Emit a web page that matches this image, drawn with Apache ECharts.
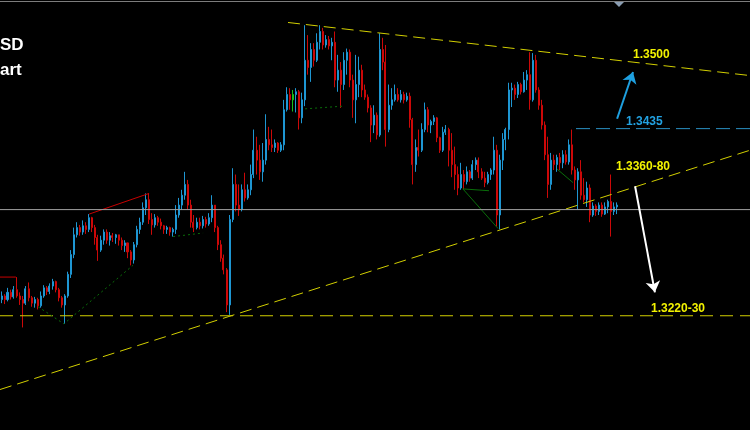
<!DOCTYPE html>
<html><head><meta charset="utf-8">
<script src="https://cdn.jsdelivr.net/npm/echarts/dist/echarts.min.js"></script>
<style>html,body{margin:0;padding:0;background:#000;}#c{width:750px;height:430px;}</style>
</head><body><div id="c"></div>
<script>
// ---- candle data (hourly bars) ----
const opens = [
1.3243,1.3247,1.3243,1.3251,1.3246,1.3254,1.3247,1.3243,1.3239,1.3255,
1.3245,1.3239,1.3243,1.3236,1.3247,1.3256,1.3252,1.3258,1.3263,1.3254,
1.3245,1.3237,1.3247,1.3271,1.3293,1.3315,1.3323,1.3318,1.3325,1.3321,
1.3334,1.3323,1.3312,1.3298,1.3309,1.3318,1.3309,1.3314,1.3312,1.3315,
1.3309,1.3303,1.3306,1.3296,1.3287,1.3304,1.3321,1.3329,1.3345,1.3354,
1.3332,1.3326,1.3334,1.3329,1.3325,1.3321,1.3323,1.3318,1.3321,1.3337,
1.3348,1.3359,1.3371,1.3348,1.3329,1.3323,1.3329,1.3325,1.3332,1.3327,
1.3334,1.3348,1.3323,1.3304,1.3289,1.3276,1.3237,1.3332,1.3371,1.3348,
1.3343,1.3365,1.3356,1.3365,1.3382,1.3409,1.3398,1.3385,1.3398,1.3421,
1.3415,1.3412,1.3417,1.3409,1.3415,1.3454,1.3471,1.3465,1.3471,1.3474,
1.3445,1.3465,1.3509,1.3501,1.3521,1.3509,1.3529,1.3541,1.3526,1.3532,
1.3525,1.3529,1.3487,1.3498,1.3482,1.3509,1.3518,1.3487,1.3465,1.3482,
1.3498,1.3476,1.3468,1.3456,1.3437,1.3448,1.3426,1.3521,1.3507,1.3432,
1.3459,1.3465,1.3471,1.3465,1.3471,1.3465,1.3469,1.3443,1.3393,1.3412,
1.3409,1.3432,1.3454,1.3437,1.3441,1.3445,1.3423,1.3409,1.3429,1.3432,
1.3409,1.3393,1.3382,1.3367,1.3382,1.3374,1.3385,1.3378,1.3393,1.3398,
1.3385,1.3378,1.3373,1.3382,1.3387,1.3409,1.3337,1.3398,1.3421,1.3432,
1.3476,1.3478,1.3471,1.3482,1.3474,1.3487,1.3493,1.3465,1.3509,1.3476,
1.3459,1.3437,1.3404,1.3371,1.3398,1.3393,1.3401,1.3395,1.3404,1.3396,
1.3415,1.3387,1.3376,1.3385,1.3359,1.3354,1.3367,1.3337,1.3347,1.3341,
1.3348,1.3338,1.3346,1.3352,1.3341,1.3346
];
const closes = [
1.3247,1.3243,1.3251,1.3246,1.3254,1.3247,1.3243,1.3239,1.3255,1.3245,
1.3239,1.3243,1.3236,1.3247,1.3256,1.3252,1.3258,1.3263,1.3254,1.3245,
1.3237,1.3247,1.3271,1.3293,1.3315,1.3323,1.3318,1.3325,1.3321,1.3334,
1.3323,1.3312,1.3298,1.3309,1.3318,1.3309,1.3314,1.3312,1.3315,1.3309,
1.3303,1.3306,1.3296,1.3287,1.3304,1.3321,1.3329,1.3345,1.3354,1.3332,
1.3326,1.3334,1.3329,1.3325,1.3321,1.3323,1.3318,1.3321,1.3337,1.3348,
1.3359,1.3371,1.3348,1.3329,1.3323,1.3329,1.3325,1.3332,1.3327,1.3334,
1.3348,1.3323,1.3304,1.3289,1.3276,1.3237,1.3332,1.3371,1.3348,1.3343,
1.3365,1.3356,1.3365,1.3382,1.3409,1.3398,1.3385,1.3398,1.3421,1.3415,
1.3412,1.3417,1.3409,1.3415,1.3454,1.3471,1.3465,1.3471,1.3474,1.3445,
1.3465,1.3509,1.3501,1.3521,1.3509,1.3529,1.3541,1.3526,1.3532,1.3525,
1.3529,1.3487,1.3498,1.3482,1.3509,1.3518,1.3487,1.3465,1.3482,1.3498,
1.3476,1.3468,1.3456,1.3437,1.3448,1.3426,1.3521,1.3507,1.3432,1.3459,
1.3465,1.3471,1.3465,1.3471,1.3465,1.3469,1.3443,1.3393,1.3412,1.3409,
1.3432,1.3454,1.3437,1.3441,1.3445,1.3423,1.3409,1.3429,1.3432,1.3409,
1.3393,1.3382,1.3367,1.3382,1.3374,1.3385,1.3378,1.3393,1.3398,1.3385,
1.3378,1.3373,1.3382,1.3387,1.3409,1.3337,1.3398,1.3421,1.3432,1.3476,
1.3478,1.3471,1.3482,1.3474,1.3487,1.3493,1.3465,1.3509,1.3476,1.3459,
1.3437,1.3404,1.3371,1.3398,1.3393,1.3401,1.3395,1.3404,1.3396,1.3415,
1.3387,1.3376,1.3385,1.3359,1.3354,1.3367,1.3337,1.3347,1.3341,1.3348,
1.3338,1.3346,1.3352,1.3341,1.3346,1.3348
];
const lows = [
1.3239,1.3238,1.3241,1.3243,1.3244,1.3245,1.3237,1.3212,1.3237,1.3241,
1.3235,1.3234,1.3232,1.3234,1.3245,1.3248,1.3249,1.3254,1.3251,1.3241,
1.3234,1.3216,1.3245,1.3267,1.3289,1.3312,1.3314,1.3315,1.3316,1.3318,
1.3318,1.3304,1.3286,1.3296,1.3304,1.3305,1.3303,1.3307,1.3305,1.3303,
1.3298,1.3296,1.3289,1.3281,1.3283,1.3301,1.3316,1.3326,1.3337,1.3327,
1.3315,1.3323,1.3325,1.3321,1.3316,1.3316,1.3314,1.3313,1.3316,1.3334,
1.3343,1.3354,1.3343,1.3323,1.3318,1.3321,1.3321,1.3322,1.3323,1.3325,
1.3329,1.3318,1.3298,1.3285,1.3271,1.3229,1.3226,1.3329,1.3341,1.3336,
1.3341,1.3352,1.3354,1.3359,1.3378,1.3382,1.3376,1.3374,1.3393,1.3409,
1.3407,1.3407,1.3406,1.3407,1.3409,1.3452,1.3454,1.3452,1.3451,1.3432,
1.3439,1.3458,1.3493,1.3485,1.3502,1.3507,1.3521,1.3521,1.3523,1.3521,
1.3509,1.3479,1.3474,1.3456,1.3476,1.3493,1.3479,1.3445,1.3439,1.3468,
1.3468,1.3465,1.3451,1.3418,1.3428,1.3421,1.3424,1.3498,1.3413,1.3429,
1.3454,1.3463,1.3463,1.3462,1.3461,1.3463,1.3434,1.3371,1.3385,1.3402,
1.3407,1.3429,1.3429,1.3428,1.3437,1.3418,1.3406,1.3407,1.3426,1.3391,
1.3379,1.3365,1.3359,1.3365,1.3365,1.3371,1.3374,1.3376,1.3387,1.3378,
1.3376,1.3368,1.3371,1.3376,1.3382,1.3324,1.3321,1.3387,1.3409,1.3421,
1.3457,1.3465,1.3467,1.3471,1.3473,1.3476,1.3454,1.3463,1.3473,1.3454,
1.3432,1.3398,1.3356,1.3365,1.3387,1.3385,1.3387,1.3389,1.3393,1.3393,
1.3382,1.3365,1.3343,1.3354,1.3351,1.3346,1.3329,1.3335,1.3336,1.3337,
1.3335,1.3337,1.3339,1.3313,1.3337,1.3338
];
const highs = [
1.3252,1.3249,1.3256,1.3254,1.3258,1.3268,1.3251,1.3247,1.3258,1.3262,
1.3247,1.3246,1.3245,1.3252,1.3259,1.3258,1.3261,1.3266,1.3264,1.3256,
1.3247,1.3249,1.3274,1.3298,1.3323,1.3329,1.3326,1.3331,1.3329,1.3338,
1.3335,1.3326,1.3315,1.3314,1.3321,1.3321,1.3318,1.3317,1.3316,1.3315,
1.3312,1.3309,1.3305,1.3298,1.3307,1.3325,1.3334,1.3351,1.3361,1.3361,
1.3339,1.3338,1.3336,1.3333,1.3326,1.3325,1.3324,1.3323,1.3348,1.3356,
1.3365,1.3385,1.3376,1.3354,1.3337,1.3334,1.3334,1.3336,1.3335,1.3339,
1.3359,1.3348,1.3325,1.3309,1.3293,1.3278,1.3337,1.3389,1.3382,1.3371,
1.3371,1.3384,1.3371,1.3393,1.3432,1.3424,1.3415,1.3417,1.3449,1.3435,
1.3432,1.3421,1.3418,1.3418,1.3465,1.3479,1.3478,1.3476,1.3478,1.3476,
1.3473,1.3548,1.3537,1.3528,1.3528,1.3539,1.3548,1.3545,1.3537,1.3536,
1.3534,1.3541,1.3515,1.3507,1.3518,1.3522,1.3521,1.3493,1.3515,1.3513,
1.3504,1.3482,1.3471,1.3459,1.3459,1.3451,1.3539,1.3534,1.3526,1.3482,
1.3478,1.3482,1.3478,1.3476,1.3474,1.3473,1.3473,1.3445,1.3421,1.3432,
1.3439,1.3462,1.3457,1.3443,1.3448,1.3446,1.3424,1.3435,1.3437,1.3434,
1.3428,1.3413,1.3391,1.3395,1.3387,1.3391,1.3387,1.3398,1.3401,1.3401,
1.3389,1.3385,1.3385,1.3389,1.3424,1.3415,1.3404,1.3428,1.3434,1.3484,
1.3484,1.3482,1.3485,1.3484,1.3496,1.3498,1.3518,1.3517,1.3515,1.3479,
1.3465,1.3441,1.3424,1.3406,1.3404,1.3404,1.3406,1.3409,1.3409,1.3421,
1.3432,1.3391,1.3389,1.3398,1.3378,1.3374,1.3371,1.3351,1.3349,1.3351,
1.3351,1.3351,1.3354,1.3382,1.3351,1.3351
];
const slotCount = 250;              // bar slots across the window (incl. empty space on the right)
const categories = Array.from({length: slotCount}, (_, i) => 'H' + i);
const greenBarIndex = 97;

// ---- drawn studies (x in bar-slot units, y in price) ----
const upperTrendX = [96, 250],  upperTrendY = [1.3551, 1.3492];
const lowerTrendX = [0, 250],   lowerTrendY = [1.3143, 1.3409];
const supportLevel = 1.3225;
const resistanceLevel = 1.3433, resistanceStartX = 192;
const lastPriceLevel = 1.3343;
const redZigX1 = [0, 5.3],       redZigY1 = [1.3268, 1.3268];
const redZigX2 = [29.7, 49.7],   redZigY2 = [1.3338, 1.3361];
const greenDotX1 = [12.7, 21.3, 44.3], greenDotY1 = [1.3235, 1.3216, 1.3281];
const greenDotX2 = [57.7, 67.7], greenDotY2 = [1.3313, 1.3317];
const greenDotX3 = [101.7, 114.3], greenDotY3 = [1.3455, 1.3458];
const greenSolidX1 = [163, 154.3, 166], greenSolidY1 = [1.3364, 1.3366, 1.3322];
const greenSolidX2 = [185.7, 191], greenSolidY2 = [1.3388, 1.3373];
const upArrowX = [205.7, 211],   upArrowY = [1.3444, 1.3496];
const downArrowX = [211.7, 218.3], downArrowY = [1.3369, 1.3251];

const UP = '#1e96d2', DOWN = '#cc0808';
const pairs = (xs, ys) => xs.map((x, i) => [x, ys[i]]);

const candleData = opens.map((o, i) => {
  const item = { value: [o, closes[i], lows[i], highs[i]] };
  if (i === greenBarIndex) item.itemStyle = { color: '#19c019', borderColor: '#19c019', color0: '#19c019', borderColor0: '#19c019' };
  return item;
});

function ovLine(xs, ys, color, type, z) {
  return { type: 'line', xAxisIndex: 1, yAxisIndex: 0, data: pairs(xs, ys), symbol: 'none',
    silent: true, animation: false, z: z || 3,
    lineStyle: { color: color, width: 1, type: type } };
}

const chart = echarts.init(document.getElementById('c'), null, { renderer: 'canvas' });
chart.setOption({
  backgroundColor: '#000000',
  animation: false,
  grid: { left: 0, right: 0, top: 0, bottom: 0 },
  xAxis: [
    { type: 'category', data: categories, boundaryGap: true, show: false },
    { type: 'value', min: 0, max: slotCount, show: false }
  ],
  yAxis: { type: 'value', min: 1.3098, max: 1.3576, show: false, splitLine: { show: false } },
  series: [
    { type: 'candlestick', data: candleData, barWidth: 1.5, z: 2,
      itemStyle: { color: UP, color0: DOWN, borderColor: UP, borderColor0: DOWN, borderColorDoji: UP, borderWidth: 1 } },
    ovLine([0, slotCount], [lastPriceLevel, lastPriceLevel], '#a0a0a0', 'solid', 4),
    ovLine(upperTrendX, upperTrendY, '#d2cf00', [12, 6]),
    ovLine(lowerTrendX, lowerTrendY, '#d2cf00', [12, 6]),
    ovLine([0, slotCount], [supportLevel, supportLevel], '#d2cf00', [13, 7]),
    ovLine([resistanceStartX, slotCount], [resistanceLevel, resistanceLevel], '#2a90c4', [14, 6]),
    ovLine(redZigX1, redZigY1, '#c80000', 'solid'),
    ovLine(redZigX2, redZigY2, '#c80000', 'solid'),
    ovLine(greenDotX1, greenDotY1, '#0a6e0a', [2, 3]),
    ovLine(greenDotX2, greenDotY2, '#0a6e0a', [2, 3]),
    ovLine(greenDotX3, greenDotY3, '#0a6e0a', [2, 3]),
    ovLine(greenSolidX1, greenSolidY1, '#0a6e0a', 'solid'),
    ovLine(greenSolidX2, greenSolidY2, '#0a6e0a', 'solid'),
    { type: 'lines', coordinateSystem: 'cartesian2d', xAxisIndex: 1, yAxisIndex: 0, z: 5, silent: true,
      symbol: ['none', 'arrow'], symbolSize: 11,
      lineStyle: { color: '#1ea0e0', width: 2, opacity: 1 },
      data: [{ coords: pairs(upArrowX, upArrowY) }] },
    { type: 'lines', coordinateSystem: 'cartesian2d', xAxisIndex: 1, yAxisIndex: 0, z: 5, silent: true,
      symbol: ['none', 'arrow'], symbolSize: 11,
      lineStyle: { color: '#ffffff', width: 2, opacity: 1 },
      data: [{ coords: pairs(downArrowX, downArrowY) }] }
  ],
  graphic: [
    { type: 'line', silent: true, shape: { x1: 0, y1: 1.5, x2: 750, y2: 1.5 }, style: { stroke: '#7c7c7c', lineWidth: 1 } },
    { type: 'polygon', silent: true, shape: { points: [[614, 2], [624, 2], [619, 7]] }, style: { fill: '#8a9db2' } },
    { type: 'text', silent: true, style: { text: 'SD', x: 0, y: 45, textVerticalAlign: 'middle', fill: '#ffffff', font: 'bold 17px "Liberation Sans", Arial, sans-serif' } },
    { type: 'text', silent: true, style: { text: 'art', x: 0, y: 70, textVerticalAlign: 'middle', fill: '#ffffff', font: 'bold 17px "Liberation Sans", Arial, sans-serif' } },
    { type: 'text', silent: true, style: { text: '1.3500', x: 633, y: 55, textVerticalAlign: 'middle', fill: '#f2f200', font: 'bold 12px "Liberation Sans", Arial, sans-serif' } },
    { type: 'text', silent: true, style: { text: '1.3435', x: 626, y: 122, textVerticalAlign: 'middle', fill: '#22a2e2', font: 'bold 12px "Liberation Sans", Arial, sans-serif' } },
    { type: 'text', silent: true, style: { text: '1.3360-80', x: 616, y: 167, textVerticalAlign: 'middle', fill: '#f2f200', font: 'bold 12px "Liberation Sans", Arial, sans-serif' } },
    { type: 'text', silent: true, style: { text: '1.3220-30', x: 651, y: 309, textVerticalAlign: 'middle', fill: '#f2f200', font: 'bold 12px "Liberation Sans", Arial, sans-serif' } }
  ]
});
</script>
</body></html>
